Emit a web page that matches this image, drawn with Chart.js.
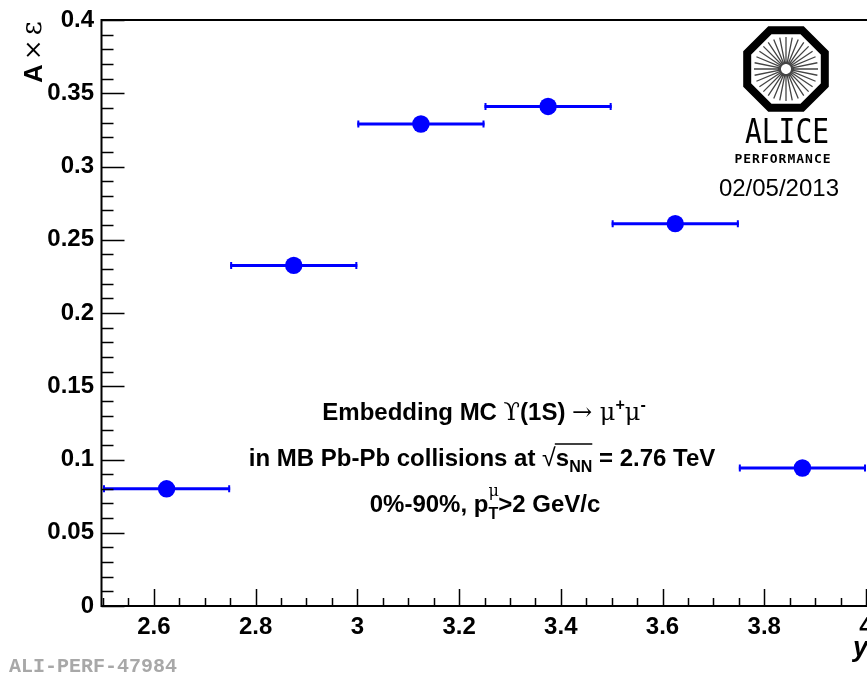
<!DOCTYPE html>
<html>
<head>
<meta charset="utf-8">
<script src="https://cdn.jsdelivr.net/npm/chart.js@4.4.1/dist/chart.umd.min.js"></script>
<style>
  html, body { margin: 0; padding: 0; background: #fff; }
</style>
</head>
<body>
<canvas id="chart_acceff" width="867" height="674"></canvas>
<script>
// rapidity bins (centre and half width) and A x eps values
const binCenters = [2.625, 2.875, 3.125, 3.375, 3.625, 3.875];
const binHalfWidths = [0.125, 0.125, 0.125, 0.125, 0.125, 0.125];
const accEff = [0.080, 0.2325, 0.329, 0.341, 0.261, 0.0942];

const xTicks = [2.6, 2.8, 3.0, 3.2, 3.4, 3.6, 3.8, 4.0];
const yTicks = [0, 0.05, 0.1, 0.15, 0.2, 0.25, 0.3, 0.35, 0.4];

const BLUE = '#0000ff';
const LABEL_FONT = "'Liberation Sans', Arial, sans-serif";
const SYMBOL_FONT = "'DejaVu Serif', serif";

// draw a row of text pieces (with sub/superscripts), centred on cx
function drawPieces(ctx, pieces, cx, baseline) {
    let total = 0;
    pieces.forEach(p => {
        ctx.font = p.font;
        p.w = p.stack ? 0 : ctx.measureText(p.t).width;
        total += p.w;
    });
    let x = cx - total / 2;
    const marks = {};
    pieces.forEach(p => {
        ctx.font = p.font;
        if (p.mark) marks[p.mark] = x;
        ctx.fillText(p.t, x, baseline + (p.dy || 0));
        x += p.w;
    });
    marks.end = x;
    return marks;
}

const errorBars = {
    id: 'errorBars',
    beforeDatasetsDraw(chart) {
        const { ctx, scales: { x, y } } = chart;
        ctx.save();
        ctx.strokeStyle = BLUE;
        binCenters.forEach((c, i) => {
            const x0 = x.getPixelForValue(c - binHalfWidths[i]);
            const x1 = x.getPixelForValue(c + binHalfWidths[i]);
            const py = y.getPixelForValue(accEff[i]);
            ctx.lineWidth = 3;
            ctx.beginPath();
            ctx.moveTo(x0, py);
            ctx.lineTo(x1, py);
            ctx.stroke();
            ctx.lineWidth = 2;
            ctx.beginPath();
            ctx.moveTo(x0 + 1, py - 3.5);
            ctx.lineTo(x0 + 1, py + 3.5);
            ctx.moveTo(x1 - 1, py - 3.5);
            ctx.lineTo(x1 - 1, py + 3.5);
            ctx.stroke();
        });
        ctx.restore();
    }
};

const rootFrame = {
    id: 'rootFrame',
    afterDraw(chart) {
        const { ctx, chartArea: a, scales: { x, y } } = chart;
        const axisX = a.left - 1.5;
        ctx.save();
        ctx.strokeStyle = '#000';
        ctx.lineWidth = 2;
        // top frame line
        ctx.beginPath();
        ctx.moveTo(axisX, a.top);
        ctx.lineTo(a.right + 2, a.top);
        ctx.stroke();

        // inward ticks
        ctx.lineWidth = 1.5;
        ctx.beginPath();
        for (let k = 0; k <= 30; k++) {
            const v = 2.5 + k * 0.05;
            const px = Math.round(x.getPixelForValue(v)) + 0.5;
            const major = k % 4 === 2;
            ctx.moveTo(px, a.bottom);
            ctx.lineTo(px, a.bottom - (major ? 17 : 8));
        }
        for (let k = 0; k <= 40; k++) {
            const v = k * 0.01;
            const py = Math.round(y.getPixelForValue(v)) + 0.5;
            const major = k % 5 === 0;
            ctx.moveTo(axisX, py);
            ctx.lineTo(axisX + (major ? 23 : 12), py);
        }
        ctx.stroke();

        ctx.fillStyle = '#000';
        ctx.textAlign = 'left';
        ctx.textBaseline = 'alphabetic';

        // y axis title, rotated
        ctx.save();
        ctx.translate(42, 83);
        ctx.rotate(-Math.PI / 2);
        ctx.font = 'bold 26px ' + LABEL_FONT;
        ctx.fillText('A', 0, 0);
        let w = ctx.measureText('A').width + 4;
        ctx.font = '25px ' + SYMBOL_FONT;
        ctx.fillText('\u00d7', w, -1);
        w += ctx.measureText('\u00d7').width + 4;
        ctx.font = '27px ' + SYMBOL_FONT;
        ctx.fillText('\u03b5', w, -1);
        ctx.restore();

        // x axis title
        ctx.font = 'italic bold 27px ' + LABEL_FONT;
        ctx.fillText('y', 853, 656);

        // annotation
        const B = 'bold 24px ' + LABEL_FONT;
        const S = '24px ' + SYMBOL_FONT;
        const SUB = 'bold 16px ' + LABEL_FONT;
        drawPieces(ctx, [
            { t: 'Embedding MC ', font: B },
            { t: '\u03d2', font: S },
            { t: '(1S) ', font: B },
            { t: '\u2192 ', font: S },
            { t: '\u03bc', font: S },
            { t: '+', font: SUB, dy: -10 },
            { t: '\u03bc', font: S },
            { t: '-', font: SUB, dy: -10 }
        ], 484, 420);

        const m = drawPieces(ctx, [
            { t: 'in MB Pb-Pb collisions at ', font: B },
            { t: '\u221a', font: '25px ' + LABEL_FONT, mark: 'root' },
            { t: 's', font: B, mark: 's' },
            { t: 'NN', font: SUB, dy: 6 },
            { t: ' = 2.76 TeV', font: B, mark: 'nnEnd' }
        ], 482, 466);
        ctx.lineWidth = 1.5;
        ctx.beginPath();
        ctx.moveTo(m.s - 1, 466 - 22);
        ctx.lineTo(m.nnEnd, 466 - 22);
        ctx.stroke();

        drawPieces(ctx, [
            { t: '0%-90%, p', font: B },
            { t: '\u03bc', font: '16px ' + SYMBOL_FONT, dy: -16, stack: true },
            { t: 'T', font: SUB, dy: 7 },
            { t: '>2 GeV/c', font: B }
        ], 485, 512);

        // ALICE performance logo
        const cx = 786, cy = 69, r = 42;
        ctx.lineWidth = 8;
        ctx.beginPath();
        for (let k = 0; k < 8; k++) {
            const ang = Math.PI / 8 + k * Math.PI / 4;
            const px = cx + r * Math.cos(ang), py = cy + r * Math.sin(ang);
            if (k === 0) ctx.moveTo(px, py); else ctx.lineTo(px, py);
        }
        ctx.closePath();
        ctx.stroke();
        ctx.strokeStyle = '#444';
        ctx.lineWidth = 1.3;
        ctx.beginPath();
        for (let k = 0; k < 32; k++) {
            const ang = k * Math.PI / 16;
            ctx.moveTo(cx + 5 * Math.cos(ang), cy + 5 * Math.sin(ang));
            ctx.lineTo(cx + 32 * Math.cos(ang), cy + 32 * Math.sin(ang));
        }
        ctx.stroke();
        ctx.fillStyle = '#000';
        ctx.textAlign = 'center';
        ctx.font = "34px 'DejaVu Sans Mono', monospace";
        ctx.fillText('ALICE', 787, 143, 84);
        ctx.font = "bold 13px 'DejaVu Sans Mono', monospace";
        ctx.letterSpacing = '1px';
        ctx.fillText('PERFORMANCE', 783, 163, 116);
        ctx.letterSpacing = '0px';
        ctx.textAlign = 'right';
        ctx.font = '24px ' + LABEL_FONT;
        ctx.fillText('02/05/2013', 839, 196);

        // figure id
        ctx.textAlign = 'left';
        ctx.fillStyle = '#a8a8a8';
        ctx.font = "bold 20px 'Liberation Mono', monospace";
        ctx.fillText('ALI-PERF-47984', 9, 672);
        ctx.restore();
    }
};

new Chart(document.getElementById('chart_acceff'), {
    type: 'scatter',
    data: {
        datasets: [{
            label: 'A x eps',
            data: binCenters.map((c, i) => ({ x: c, y: accEff[i] })),
            backgroundColor: BLUE,
            borderWidth: 0,
            pointRadius: 8.7,
            pointHoverRadius: 8.7
        }]
    },
    options: {
        responsive: false,
        devicePixelRatio: 1,
        animation: false,
        layout: { autoPadding: false, padding: { top: 20, left: 0, right: 1, bottom: 0 } },
        plugins: { legend: { display: false }, tooltip: { enabled: false } },
        scales: {
            x: {
                type: 'linear',
                min: 2.5,
                max: 4.0,
                afterBuildTicks: s => { s.ticks = xTicks.map(v => ({ value: v })); },
                afterFit: s => { s.height = 68; s.paddingLeft = 0; s.paddingRight = 0; },
                grid: { display: false, drawTicks: false },
                border: { display: true, color: '#000', width: 2 },
                ticks: {
                    padding: 7,
                    maxRotation: 0,
                    color: '#000',
                    font: { family: LABEL_FONT, size: 24, weight: 'bold' },
                    callback: v => String(Math.round(v * 10) / 10)
                }
            },
            y: {
                type: 'linear',
                min: 0,
                max: 0.4,
                afterBuildTicks: s => { s.ticks = yTicks.map(v => ({ value: v })); },
                afterFit: s => { s.width = 103; s.paddingTop = 0; s.paddingBottom = 0; },
                grid: { display: false, drawTicks: false },
                border: { display: false },
                ticks: {
                    padding: 9,
                    color: '#000',
                    font: { family: LABEL_FONT, size: 24, weight: 'bold' },
                    callback: v => String(Math.round(v * 100) / 100)
                }
            }
        }
    },
    plugins: [errorBars, rootFrame, {
        id: 'yAxisLine',
        afterDraw(chart) {
            const { ctx, chartArea: a } = chart;
            ctx.save();
            ctx.strokeStyle = '#000';
            ctx.lineWidth = 2;
            ctx.beginPath();
            ctx.moveTo(a.left - 1.5, a.top - 1);
            ctx.lineTo(a.left - 1.5, a.bottom + 1);
            ctx.stroke();
            ctx.restore();
        }
    }]
});
</script>
</body>
</html>
